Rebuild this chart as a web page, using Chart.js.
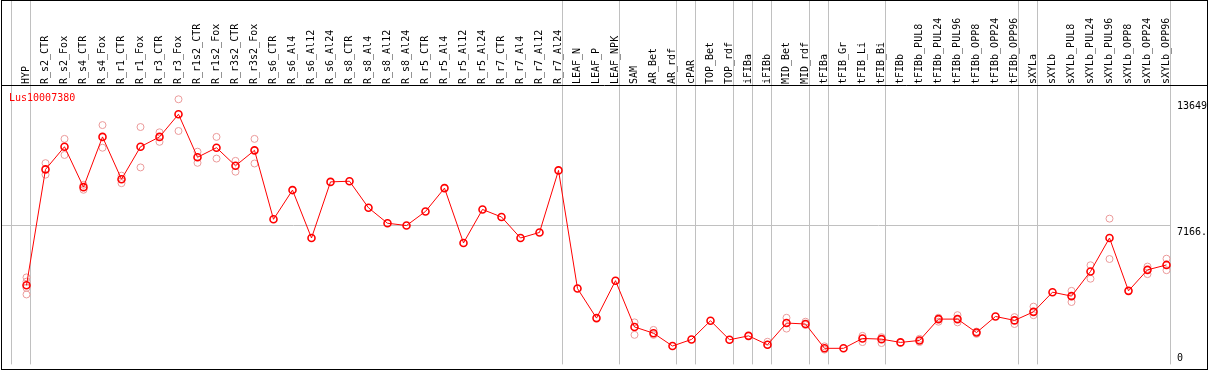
<!DOCTYPE html>
<html>
<head>
<meta charset="utf-8">
<script src="https://cdn.jsdelivr.net/npm/chart.js@4.4.0/dist/chart.umd.min.js"></script>
<style>
  html, body { margin: 0; padding: 0; background: #fff; }
  #wrap { width: 1209px; height: 370px; }
</style>
</head>
<body>
<div id="wrap"><canvas id="efpChart"></canvas></div>
<script>
const geneId = "Lus10007380";

const samples = [
  "HYP", "R_s2_CTR", "R_s2_Fox", "R_s4_CTR", "R_s4_Fox", "R_r1_CTR", "R_r1_Fox",
  "R_r3_CTR", "R_r3_Fox", "R_r1s2_CTR", "R_r1s2_Fox", "R_r3s2_CTR", "R_r3s2_Fox",
  "R_s6_CTR", "R_s6_Al4", "R_s6_Al12", "R_s6_Al24", "R_s8_CTR", "R_s8_Al4",
  "R_s8_Al12", "R_s8_Al24", "R_r5_CTR", "R_r5_Al4", "R_r5_Al12", "R_r5_Al24",
  "R_r7_CTR", "R_r7_Al4", "R_r7_Al12", "R_r7_Al24", "LEAF_N", "LEAF_P", "LEAF_NPK",
  "SAM", "AR_Bet", "AR_rdf", "cPAR", "TOP_Bet", "TOP_rdf", "iFIBa", "iFIBb",
  "MID_Bet", "MID_rdf", "tFIBa", "tFIB_Gr", "tFIB_Li", "tFIB_Bi", "tFIBb",
  "tFIBb_PUL8", "tFIBb_PUL24", "tFIBb_PUL96", "tFIBb_OPP8", "tFIBb_OPP24", "tFIBb_OPP96",
  "sXYLa", "sXYLb", "sXYLb_PUL8", "sXYLb_PUL24", "sXYLb_PUL96", "sXYLb_OPP8",
  "sXYLb_OPP24", "sXYLb_OPP96"
];

// mean expression per sample
const means = [
  4073, 10039, 11205, 9126, 11712, 9532, 11205, 11712, 12878, 10664, 11154, 10225, 11019,
  7470, 8974, 6507, 9396, 9430, 8061, 7267, 7149, 7875, 9075, 6253, 7977,
  7588, 6507, 6794, 9988, 3904, 2383, 4310,
  1927, 1606, 946, 1284, 2248, 1268, 1470, 1014, 2129, 2079,
  828, 828, 1335, 1301, 1132, 1234, 2332, 2332, 1639, 2467, 2265,
  2704, 3718, 3515, 4783, 6507, 3786, 4867, 5121
];

// single replicate values (light circles)
const replicates = [
  [4479, 4259, 3938, 3600], [10360, 9768], [11610, 10782], [9244, 8990], [12320, 11154],
  [9718, 9329], [12219, 10140], [11948, 11458], [13649, 12016], [10951, 10377],
  [11712, 10596], [10478, 9920], [11610, 10343],
  [], [], [], [], [], [], [], [], [], [], [], [], [], [], [], [], [], [], [],
  [2163, 1521], [1775, 1521], [], [], [], [], [], [1166, 1014], [2400, 1842], [2197, 2028],
  [930, 760], [], [1470, 1149], [1403, 1099], [], [1318, 1149], [2400, 2197], [2535, 2163],
  [1690, 1572], [], [2434, 2079],
  [2974, 2535], [], [3786, 3211], [5104, 4411], [7504, 5425], [], [5036, 4648], [5442, 4850]
];

const yTickValues = [0, 7166, 13649];
const yTickLabels = ["0", "7166.", "13649"];
const yMax = 14332;

// gray separators are drawn just right of these sample indexes
const groupBreaks = [-1, 0, 28, 31, 34, 35, 37, 38, 39, 41, 42, 45, 52, 53, 60];

const repPoints = [];
samples.forEach((s, i) => {
  replicates[i].forEach(v => repPoints.push({ x: s, y: v }));
});

const monoFont = "10px 'DejaVu Sans Mono', monospace";

const efpFrame = {
  id: "efpFrame",
  beforeDraw(chart) {
    const ctx = chart.ctx;
    const xs = chart.scales.x;
    const ys = chart.scales.y;
    ctx.save();
    ctx.strokeStyle = "#c0c0c0";
    ctx.lineWidth = 1;
    groupBreaks.forEach(i => {
      const px = Math.floor(xs.getPixelForValue(i) + 4) + 0.5;
      ctx.beginPath();
      ctx.moveTo(px, 0);
      ctx.lineTo(px, chart.chartArea.bottom);
      ctx.stroke();
    });
    const gy = Math.floor(ys.getPixelForValue(yTickValues[1])) + 0.5;
    const gx = Math.floor(xs.getPixelForValue(samples.length - 1) + 4) + 1;
    ctx.beginPath();
    ctx.moveTo(1, gy);
    ctx.lineTo(gx, gy);
    ctx.stroke();
    ctx.restore();
  },
  afterDraw(chart) {
    const ctx = chart.ctx;
    const ys = chart.scales.y;
    const area = chart.chartArea;
    ctx.save();
    ctx.strokeStyle = "#000";
    ctx.lineWidth = 1;
    ctx.strokeRect(1.5, 0.5, 1206, 369);
    ctx.beginPath();
    ctx.moveTo(1, area.top - 0.5);
    ctx.lineTo(1208, area.top - 0.5);
    ctx.stroke();

    ctx.font = monoFont;
    ctx.textBaseline = "alphabetic";
    ctx.textAlign = "left";
    ctx.fillStyle = "#ff0000";
    ctx.fillText(geneId, 9, area.top + 15);

    ctx.fillStyle = "#000";
    yTickValues.forEach((v, i) => {
      const py = ys.getPixelForValue(v);
      ctx.fillText(yTickLabels[i], area.right + 1, Math.min(py + 10, area.bottom - 3));
    });
    ctx.restore();
  }
};

new Chart(document.getElementById("efpChart"), {
  type: "line",
  data: {
    labels: samples,
    datasets: [
      {
        label: "mean",
        data: means,
        order: 0,
        borderColor: "#ff0000",
        borderWidth: 1,
        tension: 0,
        pointRadius: 3.5,
        pointBorderWidth: 1.6,
        pointBorderColor: "#ff0000",
        pointBackgroundColor: "rgba(255,255,255,0)"
      },
      {
        label: "replicates",
        data: repPoints,
        order: 1,
        showLine: false,
        pointRadius: 3.5,
        pointBorderWidth: 1,
        pointBorderColor: "#eb9a9a",
        pointBackgroundColor: "rgba(255,255,255,0)"
      }
    ]
  },
  options: {
    responsive: true,
    maintainAspectRatio: false,
    animation: false,
    layout: { padding: { left: 17, right: 33, top: 0, bottom: 1 } },
    plugins: {
      legend: { display: false },
      tooltip: { enabled: false },
      title: { display: false }
    },
    scales: {
      x: {
        type: "category",
        position: "top",
        offset: true,
        grid: { display: false, drawTicks: false },
        border: { display: false },
        ticks: {
          autoSkip: false,
          minRotation: 90,
          maxRotation: 90,
          padding: 2,
          labelOffset: 12,
          color: "#000",
          font: { family: "'DejaVu Sans Mono', monospace", size: 10 }
        },
        afterFit: (scale) => { scale.height = 86; }
      },
      y: {
        display: false,
        min: 0,
        max: yMax
      }
    }
  },
  plugins: [efpFrame]
});
</script>
</body>
</html>
